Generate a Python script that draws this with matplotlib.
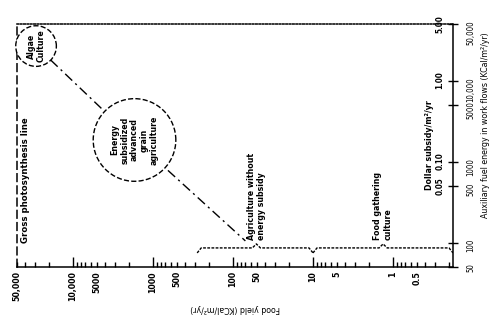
import matplotlib
matplotlib.use("Agg")
import matplotlib.pyplot as plt
from matplotlib.ticker import FixedLocator, FixedFormatter, NullLocator

plt.rcParams['font.family'] = ['DejaVu Sans']
plt.rcParams['font.stretch'] = 'condensed'
plt.rcParams['font.weight'] = 'bold'

# 食物产量轴（对数，左大右小）
food_major = [10000, 1000, 100, 10, 1]
food_major_labels = ['10,000', '1000', '100', '10', '1']
food_minor = [50000, 40000, 30000, 20000,
              9000, 8000, 7000, 6000, 5000, 4000, 3000, 2000,
              900, 800, 700, 600, 500, 400, 300, 200,
              90, 80, 70, 60, 50, 40, 30, 20,
              9, 8, 7, 6, 5, 4, 3, 2,
              0.9, 0.8, 0.7, 0.6, 0.5, 0.4, 0.3, 0.2]
food_minor_labels = ['50,000' if v == 50000 else
                     {5000: '5000', 500: '500', 50: '50', 5: '5', 0.5: '0.5'}.get(v, '')
                     for v in food_minor]

# 辅助能量轴（右侧）和对应的美元补贴
aux_ticks = [50, 100, 500, 1000, 5000, 10000, 50000]
aux_labels = ['50', '100', '500', '1000', '5000', '10,000', '50,000']
dollar_ticks = [0.05, 0.10, 1.00, 5.00]
dollar_labels = ['0.05', '0.10', '1.00', '5.00']

# 三种农业系统：藻类培养、能量补贴谷物农业、无补贴农业
system_names = ['Algae\nCulture',
                'Energy\nsubsidized\nadvanced\ngrain\nagriculture',
                'Agriculture without\nenergy subsidy']
system_food = [28900, 1700, 70]
system_aux = [26700, 1850, 105]

# 括号：食物产量范围、峰值位置、说明
brace_ranges = [(280, 10), (10, 0.178)]
brace_peaks = [51, 1.33]
brace_level = 86
gather_label = 'Food gathering\nculture'

fs = 6.3

fig = plt.figure(figsize=(4.94, 3.24), dpi=100)
ax = fig.add_axes([17 / 494, 57 / 324, 436 / 494, 243 / 324])
ax.set_xscale('log')
ax.set_yscale('log')
ax.set_xlim(50000, 0.178)
ax.set_ylim(50, 50000)

ax.spines['left'].set_linestyle((0, (5, 3)))
ax.spines['top'].set_linestyle((0, (1, 1.2)))
for s in ax.spines.values():
    s.set_linewidth(1.1)

ax.xaxis.set_major_locator(FixedLocator(food_major))
ax.xaxis.set_major_formatter(FixedFormatter(food_major_labels))
ax.xaxis.set_minor_locator(FixedLocator(food_minor))
ax.xaxis.set_minor_formatter(FixedFormatter(food_minor_labels))
ax.tick_params(axis='x', which='both', direction='in', width=1, pad=3,
               labelsize=fs, labelrotation=90, top=False)
ax.tick_params(axis='x', which='major', length=7)
ax.tick_params(axis='x', which='minor', length=3.5)

ax.yaxis.tick_right()
ax.yaxis.set_major_locator(FixedLocator(aux_ticks))
ax.yaxis.set_major_formatter(FixedFormatter(aux_labels))
ax.yaxis.set_minor_locator(NullLocator())
ax.tick_params(axis='y', which='major', direction='inout', length=7, width=1,
               pad=6, labelsize=5.6, labelrotation=90)
for lab in ax.get_yticklabels():
    lab.set_fontweight('normal')

ax.set_xlabel('Food yield (KCal/m²/yr)', rotation=180, fontsize=fs)
ax.xaxis.set_label_coords(0.5, -0.152)
ax.yaxis.set_label_position('right')
ax.set_ylabel('Auxiliary fuel energy in work flows (KCal/m²/yr)', rotation=90, fontsize=fs)
ax.yaxis.set_label_coords(1.064, 0.584)

# 美元补贴刻度标在右轴内侧
for d, lab in zip(dollar_ticks, dollar_labels):
    ax.annotate(lab, xy=(1, d * 10000), xycoords=('axes fraction', 'data'),
                xytext=(-9.5, 0), textcoords='offset points',
                rotation=90, ha='center', va='center', fontsize=5.8)
ax.text(0.947, 0.317, 'Dollar subsidy/m²/yr', transform=ax.transAxes,
        rotation=90, ha='center', va='bottom', fontsize=fs)

ax.text(0.009, 0.099, 'Gross photosynthesis line', transform=ax.transAxes,
        rotation=90, ha='left', va='bottom', fontsize=6.8)

# 连接三种系统的点划线
ax.plot(system_food, system_aux, color='black', lw=1,
        ls=(0, (7, 3, 1.5, 3)), zorder=1)

circle_pads = [0.45, 1.9]
for name, fx, ay, pad in zip(system_names[:2], system_food[:2], system_aux[:2], circle_pads):
    ax.text(fx, ay, name, rotation=90, ha='center', va='center',
            multialignment='center', fontsize=fs, zorder=3, linespacing=1.1,
            bbox=dict(boxstyle=f'circle,pad={pad}', fc='white', ec='black',
                      ls='--', lw=1))

# 括号（对数坐标下用乘法偏移）
step = 10 ** (4 / 80)
hook = 10 ** (-5 / 81)
rise = 10 ** (4 / 81)
for (left, right), peak in zip(brace_ranges, brace_peaks):
    xs = [left, left / step, peak * step, peak, peak / step, right * step, right]
    ys = [brace_level * hook, brace_level, brace_level, brace_level * rise,
          brace_level, brace_level, brace_level * hook]
    ax.plot(xs, ys, color='black', lw=1, ls=(0, (2, 1)), zorder=2)

ax.annotate(system_names[2], xy=(brace_peaks[0], brace_level * rise),
            xytext=(0, 3), textcoords='offset points', rotation=90,
            ha='center', va='bottom', multialignment='left', fontsize=fs)
ax.annotate(gather_label, xy=(brace_peaks[1], brace_level * rise),
            xytext=(0, 3), textcoords='offset points', rotation=90,
            ha='center', va='bottom', multialignment='left', fontsize=fs)

fig.savefig('out.png', dpi=100)
